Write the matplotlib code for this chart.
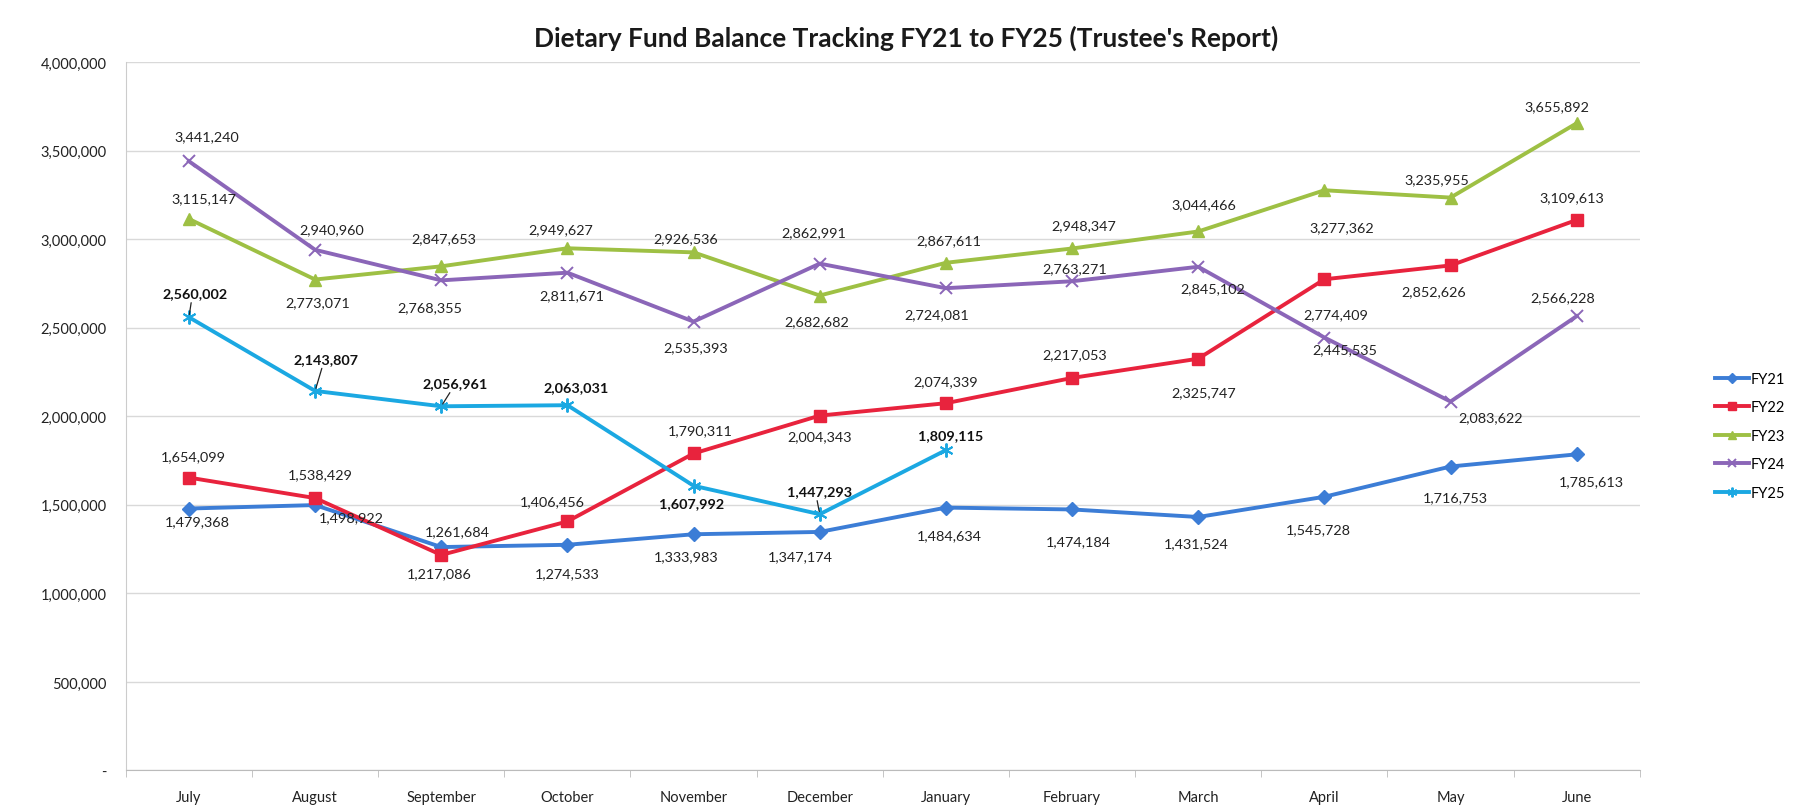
import matplotlib
matplotlib.use("Agg")
import matplotlib.pyplot as plt
from matplotlib.ticker import FuncFormatter

plt.rcParams['font.family'] = ['Lato', 'DejaVu Sans']

months = ["July", "August", "September", "October", "November", "December",
          "January", "February", "March", "April", "May", "June"]

fy21 = [1479368, 1498922, 1261684, 1274533, 1333983, 1347174,
        1484634, 1474184, 1431524, 1545728, 1716753, 1785613]
fy22 = [1654099, 1538429, 1217086, 1406456, 1790311, 2004343,
        2074339, 2217053, 2325747, 2774409, 2852626, 3109613]
fy23 = [3115147, 2773071, 2847653, 2949627, 2926536, 2682682,
        2867611, 2948347, 3044466, 3277362, 3235955, 3655892]
fy24 = [3441240, 2940960, 2768355, 2811671, 2535393, 2862991,
        2724081, 2763271, 2845102, 2445535, 2083622, 2566228]
fy25 = [2560002, 2143807, 2056961, 2063031, 1607992, 1447293, 1809115]

series_names = ["FY21", "FY22", "FY23", "FY24", "FY25"]

# label offsets (pixels, image-down positive dy) -- style only
off21 = [(8, 13), (36, 12), (16, -16), (0, 28), (-7, 22), (-19, 24),
         (3, 28), (6, 32), (-2, 26), (-6, 32), (5, 31), (15, 27)]
off22 = [(4, -21), (5, -24), (-2, 18), (-15, -20), (7, -23), (0, 21),
         (0, -22), (3, -24), (6, 33), (11, 35), (-17, 26), (-5, -23)]
off23 = [(15, -21), (3, 23), (3, -28), (-7, -19), (-8, -14), (-3, 26),
         (3, -23), (12, -23), (6, -27), (17, 37), (-14, -18), (-20, -17)]
off24 = [(18, -25), (17, -21), (-11, 27), (4, 22), (2, 26), (-6, -31),
         (-9, 26), (3, -13), (15, 21), (20, 12), (40, 16), (-14, -19)]
off25 = [(6, -24), (11, -32), (14, -23), (9, -18), (-2, 17), (0, -23), (5, -15)]
leader25 = [True, True, True, False, False, True, False]

colors = ["#3C7DD6", "#E8233D", "#9EC044", "#8B66B8", "#1BA8E2"]
markers = ["D", "s", "^", "x", (6, 2, 0)]
msizes = [7, 9, 9, 9, 10]

fig = plt.figure(figsize=(17.98, 8.12), dpi=100)
ax = fig.add_axes([0.070, 0.050, 0.842, 0.872])

data = [fy21, fy22, fy23, fy24, fy25]
offs = [off21, off22, off23, off24, off25]

for i, (vals, name) in enumerate(zip(data, series_names)):
    xs = list(range(len(vals)))
    ax.plot(xs, vals, color=colors[i], lw=2.8, marker=markers[i],
            markersize=msizes[i], markeredgewidth=1.4 if i >= 3 else 1,
            markeredgecolor=colors[i], markerfacecolor=colors[i],
            label=name, zorder=3 + i * 0.1, solid_joinstyle='round')
    for j, v in enumerate(vals):
        dx, dy = offs[i][j]
        bold = (i == 4)
        kw = dict(xy=(j, v), xytext=(dx, -dy), textcoords='offset pixels',
                  ha='center', va='center', fontsize=10.4,
                  color='#222222' if not bold else '#111111',
                  fontweight='bold' if bold else 'normal', zorder=6)
        if bold and leader25[j]:
            kw['arrowprops'] = dict(arrowstyle='-', color='#222222', lw=0.9,
                                    shrinkA=0.5, shrinkB=2, relpos=(0.45, 0.0))
        ax.annotate(f"{v:,}", **kw)

ax.set_xlim(-0.5, 11.5)
ax.set_ylim(0, 4000000)
ax.set_yticks(range(0, 4000001, 500000))
ax.yaxis.set_major_formatter(FuncFormatter(lambda v, p: "-" if v == 0 else f"{int(v):,}"))
ax.set_xticks(range(12))
ax.set_xticklabels(months)
ax.set_xticks([k - 0.5 for k in range(13)], minor=True)
ax.tick_params(axis='x', which='major', length=0, pad=14, labelsize=10.5, colors='#222222')
ax.tick_params(axis='x', which='minor', length=5, color='#BBBBBB', direction='out')
ax.tick_params(axis='y', length=0, pad=14, labelsize=10.5, colors='#222222')

ax.grid(axis='y', color='#D9D9D9', lw=1)
ax.set_axisbelow(True)
for s in ['top', 'right']:
    ax.spines[s].set_visible(False)
ax.spines['left'].set_color('#CCCCCC')
ax.spines['bottom'].set_color('#BBBBBB')

fig.text(0.504, 0.953, "Dietary Fund Balance Tracking FY21 to FY25 (Trustee's Report)",
         ha='center', va='center', fontsize=19, fontweight='bold', color='#1a1a1a')

handles, labels = ax.get_legend_handles_labels()
leg = fig.legend(handles, labels, loc='center left', bbox_to_anchor=(0.949, 0.462),
                 frameon=False, fontsize=10.5, handlelength=2.3, labelspacing=1.0,
                 handletextpad=0.15, markerscale=0.7, borderaxespad=0.2)

fig.savefig("out.png", dpi=100, facecolor='white')
